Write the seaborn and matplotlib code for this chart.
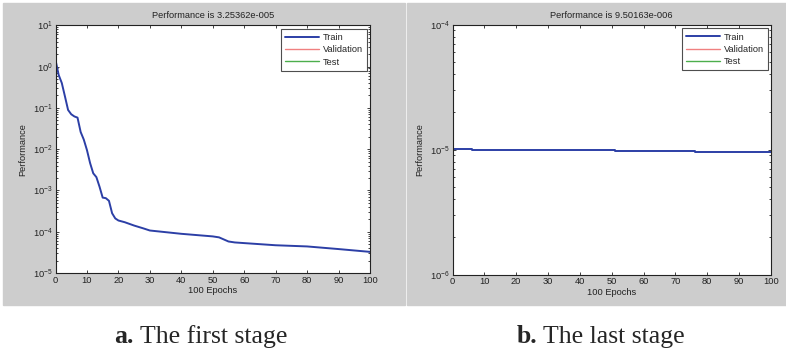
import numpy as np
import pandas as pd
import matplotlib
matplotlib.use("Agg")
import matplotlib.pyplot as plt
import matplotlib.patches as mpatches
import matplotlib.ticker as mticker
import seaborn as sns

# Values

# first stage (train performance, log scale)
first_epochs = [0, 1, 2, 3, 4, 5, 6, 7, 8, 9, 10, 11, 12, 13, 14, 15, 16, 17,
                18, 19, 20, 22, 25, 28, 30, 40, 50, 52, 55, 57, 60, 70, 80,
                90, 100]
first_perf = [1.45, 0.63, 0.40, 0.19, 0.089, 0.070, 0.062, 0.058, 0.026,
              0.017, 0.0095, 0.0046, 0.0026, 0.0021, 0.00123, 0.00067,
              0.00065, 0.00056, 0.00028, 0.00021, 0.000187, 0.00017,
              0.000141, 0.00012, 0.000107, 0.000089, 0.000077, 0.000073,
              0.000058, 0.000055, 0.000053, 0.000047, 0.000044, 0.000038,
              0.0000325]

# last stage (almost flat, small steps)
last_epochs = [0, 6, 28, 51, 76, 100]
last_perf = [1.02e-5, 1.0e-5, 9.85e-6, 9.7e-6, 9.55e-6, 9.50163e-6]

titles = ["Performance is 3.25362e-005", "Performance is 9.50163e-006"]
captions = [("a.", " The first stage"), ("b.", " The last stage")]
legend_labels = ["Train", "Validation", "Test"]

sns.set_style("ticks")
plt.rcParams["font.family"] = ["Liberation Sans", "DejaVu Sans"]
plt.rcParams["mathtext.fontset"] = "custom"
plt.rcParams["mathtext.rm"] = "Liberation Sans"
plt.rcParams["mathtext.it"] = "Liberation Sans"

W, H = 786, 352
fig = plt.figure(figsize=(W / 100, H / 100), dpi=100)
fig.patch.set_facecolor("white")

# gray panels behind each plot
gray = "#cdcdcd"
fig.patches.append(mpatches.Rectangle((3 / W, 1 - 305 / H), 402 / W, 302 / H,
                                      transform=fig.transFigure, color=gray,
                                      zorder=-5))
fig.patches.append(mpatches.Rectangle((407 / W, 1 - 305 / H), 379 / W, 302 / H,
                                      transform=fig.transFigure, color=gray,
                                      zorder=-5))

ax1 = fig.add_axes([55.5 / W, 1 - 273 / H, 314.5 / W, 247.7 / H])
ax2 = fig.add_axes([452.5 / W, 1 - 274.5 / H, 318.5 / W, 249.8 / H])

blue = "#2c3fa6"
fs = 6.7

df1 = pd.DataFrame({"epoch": first_epochs, "perf": first_perf})
df2 = pd.DataFrame({"epoch": last_epochs, "perf": last_perf})

sns.lineplot(data=df1, x="epoch", y="perf", ax=ax1, color=blue, lw=1.4,
             label=legend_labels[0])
sns.lineplot(data=df2, x="epoch", y="perf", ax=ax2, color=blue, lw=1.4,
             drawstyle="steps-post", label=legend_labels[0])

for ax, title, ylim in [(ax1, titles[0], (1e-5, 10)),
                        (ax2, titles[1], (1e-6, 1e-4))]:
    ax.set_zorder(2)
    ax.set_facecolor("white")
    ax.plot([], [], color="#f08080", lw=1.0, label=legend_labels[1])
    ax.plot([], [], color="#4cae4c", lw=1.0, label=legend_labels[2])
    ax.set_yscale("log")
    ax.set_ylim(*ylim)
    ax.set_xlim(0, 100)
    ax.set_xticks(range(0, 101, 10))
    ax.yaxis.set_major_locator(mticker.LogLocator(base=10, numticks=20))
    ax.yaxis.set_minor_locator(mticker.LogLocator(base=10, subs=np.arange(2, 10),
                                                  numticks=20))
    ax.yaxis.set_minor_formatter(mticker.NullFormatter())
    ax.tick_params(which="both", direction="in", top=True, right=True,
                   labelsize=fs, colors="#222222", width=0.6)
    ax.tick_params(which="major", length=2.5, pad=2)
    ax.tick_params(which="minor", length=1.5)
    for s in ax.spines.values():
        s.set_visible(True)
        s.set_linewidth(0.8)
        s.set_color("#222222")
    ax.set_title(title, fontsize=fs, pad=5, color="#222222")
    ax.set_xlabel("100 Epochs", fontsize=fs, labelpad=1, color="#222222")
    ax.set_ylabel("Performance", fontsize=fs, labelpad=4, color="#222222")
    leg = ax.legend(loc="upper right", bbox_to_anchor=(0.99, 0.985),
                    borderaxespad=0, fontsize=fs, frameon=True,
                    fancybox=False, handlelength=3.6, handletextpad=0.4,
                    labelspacing=0.35, borderpad=0.45)
    leg.get_frame().set_edgecolor("#222222")
    leg.get_frame().set_linewidth(0.8)

# captions under the panels
for (bold, rest), cx in zip(captions, [200, 600]):
    t = fig.text(cx / W, 1 - 343 / H, bold + rest, fontsize=18.5,
                 family="Liberation Serif", ha="center", va="baseline",
                 color="white")
    fig.canvas.draw()
    bb = t.get_window_extent()
    t.remove()
    x0 = bb.x0 / W
    tb = fig.text(x0, 1 - 343 / H, bold, fontsize=18.5, fontweight="bold",
                  family="Liberation Serif", ha="left", va="baseline")
    fig.canvas.draw()
    bb2 = tb.get_window_extent()
    fig.text(bb2.x1 / W, 1 - 343 / H, rest, fontsize=18.5,
             family="Liberation Serif", ha="left", va="baseline")

fig.savefig("out.png", dpi=100)
